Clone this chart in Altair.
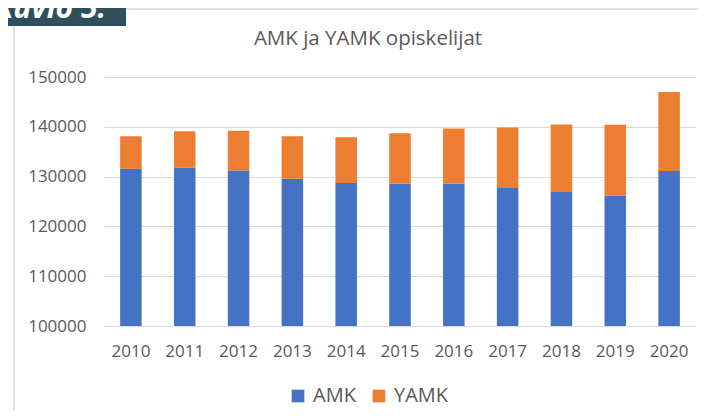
import altair as alt
import pandas as pd

years = ["2010", "2011", "2012", "2013", "2014", "2015", "2016", "2017", "2018", "2019", "2020"]
amk = [131550, 131750, 131200, 129550, 128700, 128550, 128600, 127700, 126900, 126150, 131100]
yamk = [6550, 7350, 8000, 8550, 9200, 10150, 11050, 12150, 13550, 14250, 15900]
series = ["AMK", "YAMK"]
colors = ["#4472C4", "#ED7D31"]
y_ticks = [100000, 110000, 120000, 130000, 140000, 150000]
title_text = "AMK ja YAMK opiskelijat"
label_text = "Kuvio 5."

rows = []
for i, yr in enumerate(years):
    rows.append({"vuosi": yr, "sarja": "AMK", "arvo": amk[i], "jarj": 0})
    rows.append({"vuosi": yr, "sarja": "YAMK", "arvo": yamk[i], "jarj": 1})
df = pd.DataFrame(rows)

FONT = "Open Sans"
GREY = "#595959"
GRID = "#D9D9D9"

bars = alt.Chart(df).mark_bar(clip=True).encode(
    x=alt.X("vuosi:N", sort=years, title=None,
            scale=alt.Scale(paddingInner=0.6, paddingOuter=0.3),
            axis=alt.Axis(labelAngle=0, labelFont=FONT, labelFontSize=17, labelColor=GREY,
                          ticks=False, domain=False, labelPadding=17, grid=False)),
    y=alt.Y("arvo:Q", stack="zero", title=None,
            scale=alt.Scale(domain=[100000, 150000], zero=False, nice=False),
            axis=alt.Axis(values=y_ticks, format="d", labelFont=FONT, labelFontSize=17,
                          labelColor=GREY, ticks=False, domain=False, labelPadding=18,
                          gridColor=GRID, gridWidth=1)),
    color=alt.Color("sarja:N", scale=alt.Scale(domain=series, range=colors), title=None,
                    legend=alt.Legend(orient="none", legendX=184, legendY=309, direction="horizontal",
                                      symbolType="square", symbolSize=160, symbolStrokeWidth=0,
                                      labelFont=FONT, labelFontSize=20, labelColor=GREY,
                                      labelOffset=5, columnPadding=13)),
    order=alt.Order("jarj:Q"),
)

one = alt.Data(values=[{"a": 1}])

frame_top = alt.Chart(one).mark_rule(color=GRID, strokeWidth=1.5).encode(
    x=alt.value(22), x2=alt.value(610), y=alt.value(-68))
frame_left = alt.Chart(one).mark_rule(color=GRID, strokeWidth=1.5).encode(
    x=alt.value(-90), y=alt.value(-51), y2=alt.value(345))
box = alt.Chart(one).mark_rect(color="#304F5C").encode(
    x=alt.value(-100), x2=alt.value(22), y=alt.value(-75), y2=alt.value(-51))
box_text = alt.Chart(one).mark_text(
    text=label_text, font=FONT, fontSize=30, fontWeight="bold", fontStyle="italic",
    color="white", align="right", baseline="alphabetic").encode(
    x=alt.value(2), y=alt.value(-59))
title = alt.Chart(one).mark_text(
    text=title_text, font=FONT, fontSize=20.5, color=GREY, align="center",
    baseline="middle").encode(x=alt.value(264), y=alt.value(-38))

chart = alt.layer(frame_top, frame_left, box, box_text, title, bars).properties(
    width=592, height=249,
    autosize=alt.AutoSizeParams(type="none"),
    padding={"left": 96, "top": 69, "right": 2, "bottom": 84},
).configure_view(stroke=None)

chart.save("out.html", embed_options={"renderer": "svg", "actions": False})
